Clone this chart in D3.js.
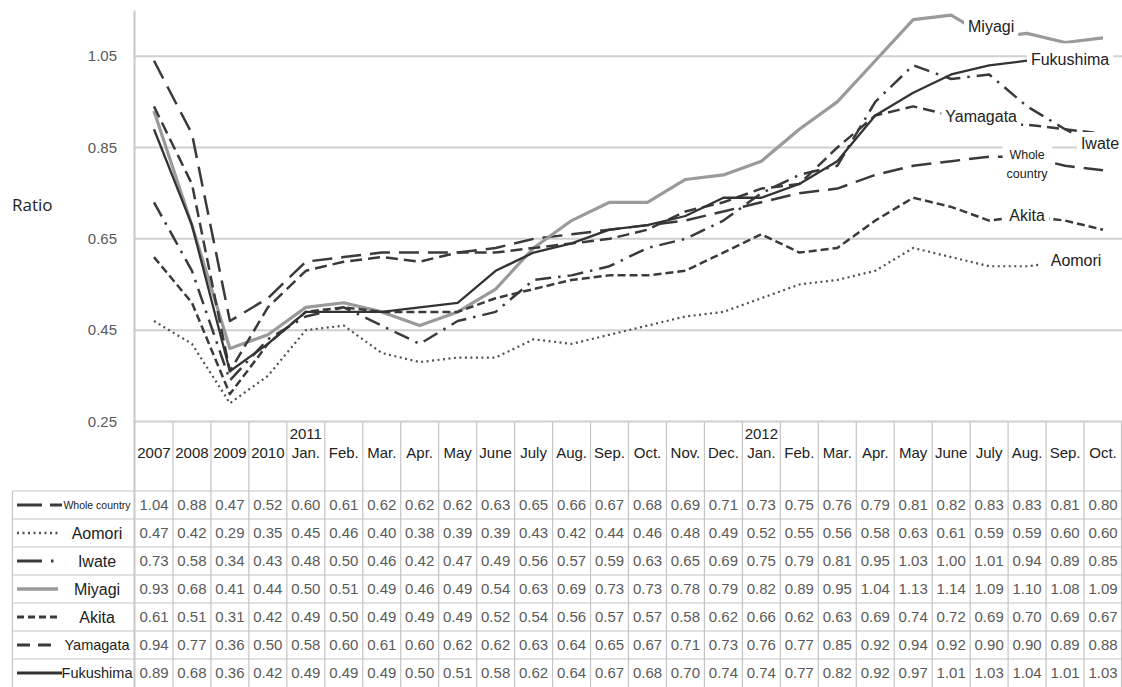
<!DOCTYPE html>
<html>
<head>
<meta charset="utf-8">
<script src="https://cdn.jsdelivr.net/npm/d3@7"></script>
<style>
  body { margin: 0; background: #fff; }
  svg { display: block; font-family: "Liberation Sans", Arial, sans-serif; }
</style>
</head>
<body>
<svg width="1122" height="687"></svg>
<script>
// Column headings (second line only where a new year starts)
var months = ["2007", "2008", "2009", "2010", "Jan.", "Feb.", "Mar.", "Apr.", "May", "June", "July",
    "Aug.", "Sep.", "Oct.", "Nov.", "Dec.", "Jan.", "Feb.", "Mar.", "Apr.", "May", "June", "July",
    "Aug.", "Sep.", "Oct."];
var yearTop = {4: "2011", 16: "2012"};

var seriesNames = ["Whole country", "Aomori", "Iwate", "Miyagi", "Akita", "Yamagata", "Fukushima"];

var wholeCountry = [1.04, 0.88, 0.47, 0.52, 0.60, 0.61, 0.62, 0.62, 0.62, 0.63, 0.65, 0.66, 0.67, 0.68, 0.69, 0.71, 0.73, 0.75, 0.76, 0.79, 0.81, 0.82, 0.83, 0.83, 0.81, 0.80];
var aomori = [0.47, 0.42, 0.29, 0.35, 0.45, 0.46, 0.40, 0.38, 0.39, 0.39, 0.43, 0.42, 0.44, 0.46, 0.48, 0.49, 0.52, 0.55, 0.56, 0.58, 0.63, 0.61, 0.59, 0.59, 0.60, 0.60];
var iwate = [0.73, 0.58, 0.34, 0.43, 0.48, 0.50, 0.46, 0.42, 0.47, 0.49, 0.56, 0.57, 0.59, 0.63, 0.65, 0.69, 0.75, 0.79, 0.81, 0.95, 1.03, 1.00, 1.01, 0.94, 0.89, 0.85];
var miyagi = [0.93, 0.68, 0.41, 0.44, 0.50, 0.51, 0.49, 0.46, 0.49, 0.54, 0.63, 0.69, 0.73, 0.73, 0.78, 0.79, 0.82, 0.89, 0.95, 1.04, 1.13, 1.14, 1.09, 1.10, 1.08, 1.09];
var akita = [0.61, 0.51, 0.31, 0.42, 0.49, 0.50, 0.49, 0.49, 0.49, 0.52, 0.54, 0.56, 0.57, 0.57, 0.58, 0.62, 0.66, 0.62, 0.63, 0.69, 0.74, 0.72, 0.69, 0.70, 0.69, 0.67];
var yamagata = [0.94, 0.77, 0.36, 0.50, 0.58, 0.60, 0.61, 0.60, 0.62, 0.62, 0.63, 0.64, 0.65, 0.67, 0.71, 0.73, 0.76, 0.77, 0.85, 0.92, 0.94, 0.92, 0.90, 0.90, 0.89, 0.88];
var fukushima = [0.89, 0.68, 0.36, 0.42, 0.49, 0.49, 0.49, 0.50, 0.51, 0.58, 0.62, 0.64, 0.67, 0.68, 0.70, 0.74, 0.74, 0.77, 0.82, 0.92, 0.97, 1.01, 1.03, 1.04, 1.01, 1.03];

var yTicks = [0.25, 0.45, 0.65, 0.85, 1.05];

var allValues = [wholeCountry, aomori, iwate, miyagi, akita, yamagata, fukushima];

// Line styles, same order as seriesNames
var styles = [
    {color: "#3a3a3a", width: 2.5, dash: "20,9", legendDash: "25,8"},
    {color: "#505050", width: 2.2, dash: "2,3.5", legendDash: "2,3.5"},
    {color: "#3a3a3a", width: 2.5, dash: "16,7,2.5,7", legendDash: "25,9,2.5,30"},
    {color: "#9a9a9a", width: 3.2, dash: null, legendDash: null},
    {color: "#3a3a3a", width: 2.5, dash: "8,4", legendDash: "7,4"},
    {color: "#3a3a3a", width: 2.5, dash: "12,6", legendDash: "13,8"},
    {color: "#333333", width: 2.3, dash: null, legendDash: null}
];

// In-chart labels: anchored on a column, with a pixel nudge
var endLabels = [
    {name: "Miyagi", col: 22, dx: 2, v: 1.116, padTop: 5, padBottom: 10},
    {name: "Fukushima", col: 24, dx: 5, v: 1.042, padTop: 8, padBottom: 8},
    {name: "Yamagata", col: 22, dx: -8, v: 0.919, padTop: 2, padBottom: 4},
    {name: "Iwate", col: 25, dx: -3, v: 0.859, padTop: 3, padBottom: 3},
    {name: "Whole\ncountry", col: 23, dx: 0, v: 0.815, padTop: 3, padBottom: 3, small: true},
    {name: "Akita", col: 23, dx: 0, v: 0.702, padTop: 3, padBottom: 3},
    {name: "Aomori", col: 24, dx: 11, v: 0.603, padTop: 4, padBottom: 4, wide: 8}
];

var svg = d3.select("svg");
var plotLeft = 135, plotRight = 1122, plotTop = 10.5, plotBottom = 421.5;
var rowTop = 491, rowH = 28;

var x = d3.scaleBand().domain(d3.range(months.length)).range([plotLeft, plotRight]);
var y = d3.scaleLinear().domain([0.25, 1.15]).range([plotBottom, plotTop]);
var cx = function(i) { return x(i) + x.bandwidth() / 2; };

// Gridlines
svg.append("g")
    .selectAll("line")
    .data(yTicks.slice(1))
    .enter().append("line")
    .attr("x1", plotLeft).attr("x2", plotRight)
    .attr("y1", function(d) { return y(d); })
    .attr("y2", function(d) { return y(d); })
    .attr("stroke", "#d0d0d0").attr("stroke-width", 2);

// Tick labels
svg.append("g")
    .selectAll("text")
    .data(yTicks)
    .enter().append("text")
    .attr("x", 117)
    .attr("y", function(d) { return y(d); })
    .attr("dy", "0.35em")
    .attr("text-anchor", "end")
    .attr("fill", "#595959")
    .style("font-size", "15px")
    .text(function(d) { return d.toFixed(2); });

svg.append("text")
    .attr("x", 12).attr("y", 205).attr("dy", "0.35em")
    .attr("fill", "#222")
    .style("font-family", "'Open Sans', sans-serif")
    .style("font-size", "17px")
    .text("Ratio");

// Series lines
var line = d3.line()
    .x(function(d, i) { return cx(i); })
    .y(function(d) { return y(d); });

allValues.forEach(function(vals, k) {
    var st = styles[k];
    svg.append("path")
        .datum(vals)
        .attr("d", line)
        .attr("fill", "none")
        .attr("stroke", st.color)
        .attr("stroke-width", st.width)
        .attr("stroke-dasharray", st.dash)
        .attr("stroke-linejoin", "round");
});

// Labels on white patches
endLabels.forEach(function(lb) {
    var g = svg.append("g");
    var bg = g.append("rect").attr("fill", "#fff");
    var t = g.append("text")
        .attr("x", cx(lb.col) + lb.dx)
        .attr("y", y(lb.v))
        .attr("text-anchor", "middle")
        .attr("fill", "#222")
        .style("font-size", lb.small ? "12.5px" : "16px");
    var parts = lb.name.split("\n");
    parts.forEach(function(p, j) {
        t.append("tspan")
            .attr("x", cx(lb.col) + lb.dx)
            .attr("dy", parts.length > 1 ? (j == 0 ? "-0.35em" : "1.5em") : "0.35em")
            .text(p);
    });
    var b = t.node().getBBox();
    var padX = 4 + (lb.wide || 0);
    bg.attr("x", b.x - padX)
        .attr("y", b.y - lb.padTop)
        .attr("width", b.width + padX * 2)
        .attr("height", b.height + lb.padTop + lb.padBottom);
});

// Data table
var grid = "#c4c4c4";
var tableBottom = rowTop + rowH * seriesNames.length;
var tbl = svg.append("g");

// header row
tbl.selectAll("text.head")
    .data(months)
    .enter().append("text")
    .attr("class", "head")
    .attr("x", function(d, i) { return cx(i); })
    .attr("y", 453)
    .attr("dy", "0.35em")
    .attr("text-anchor", "middle")
    .attr("fill", "#222")
    .style("font-size", "15px")
    .text(function(d) { return d; });

tbl.selectAll("text.year")
    .data(Object.keys(yearTop))
    .enter().append("text")
    .attr("class", "year")
    .attr("x", function(d) { return cx(+d); })
    .attr("y", 434)
    .attr("dy", "0.35em")
    .attr("text-anchor", "middle")
    .attr("fill", "#222")
    .style("font-size", "15px")
    .text(function(d) { return yearTop[d]; });

// values
allValues.forEach(function(vals, k) {
    tbl.append("g")
        .selectAll("text")
        .data(vals)
        .enter().append("text")
        .attr("x", function(d, i) { return cx(i); })
        .attr("y", rowTop + rowH * k + rowH / 2)
        .attr("dy", "0.36em")
        .attr("text-anchor", "middle")
        .attr("fill", "#5a5a5a")
        .style("font-size", "15px")
        .text(function(d) { return d.toFixed(2); });
});

// legend keys
seriesNames.forEach(function(name, k) {
    var st = styles[k];
    var cy = rowTop + rowH * k + rowH / 2;
    tbl.append("line")
        .attr("x1", 17).attr("x2", name == "Fukushima" || name == "Whole country" ? 62 : 58)
        .attr("y1", cy).attr("y2", cy)
        .attr("stroke", st.color)
        .attr("stroke-width", st.width + 0.5)
        .attr("stroke-dasharray", st.legendDash);
    tbl.append("text")
        .attr("x", 97)
        .attr("y", cy)
        .attr("dy", "0.35em")
        .attr("text-anchor", "middle")
        .attr("fill", "#222")
        .style("font-size", name == "Whole country" ? "10.5px" : (name.length > 7 ? "14.5px" : "16px"))
        .text(name);
});

// grid lines of the table
var cols = d3.range(months.length + 1).map(function(i) { return i < months.length ? x(i) : plotRight - 0.5; });
tbl.selectAll("line.col")
    .data(cols.slice(1))
    .enter().append("line")
    .attr("x1", function(d) { return d; }).attr("x2", function(d) { return d; })
    .attr("y1", plotBottom).attr("y2", tableBottom)
    .attr("stroke", grid).attr("stroke-width", 1.2);

tbl.selectAll("line.row")
    .data(d3.range(seriesNames.length).map(function(k) { return rowTop + rowH * k; }))
    .enter().append("line")
    .attr("x1", 12.5).attr("x2", plotRight)
    .attr("y1", function(d) { return d; }).attr("y2", function(d) { return d; })
    .attr("stroke", grid).attr("stroke-width", 1.2);

tbl.append("line")
    .attr("x1", 12.5).attr("x2", 12.5)
    .attr("y1", rowTop).attr("y2", tableBottom)
    .attr("stroke", grid).attr("stroke-width", 1.2);

// x axis line (0.25) and the vertical axis running down through the table
svg.append("line")
    .attr("x1", plotLeft).attr("x2", plotRight)
    .attr("y1", plotBottom).attr("y2", plotBottom)
    .attr("stroke", "#cfcfcf").attr("stroke-width", 2);
svg.append("line")
    .attr("x1", plotLeft - 0.5).attr("x2", plotLeft - 0.5)
    .attr("y1", plotTop).attr("y2", tableBottom)
    .attr("stroke", "#c8c8c8").attr("stroke-width", 2);
</script>
</body>
</html>
